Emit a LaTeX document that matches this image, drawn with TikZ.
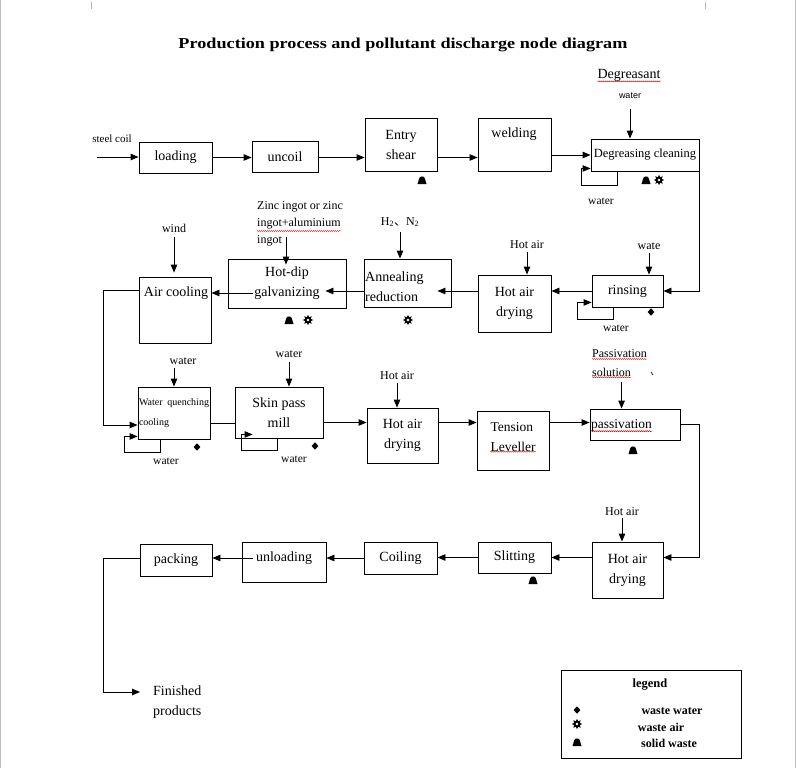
\documentclass[tikz,border=0pt]{standalone}
\usepackage{graphicx}
\usepackage{fontspec}
\setmainfont{Liberation Serif}
\newfontfamily\arial{Liberation Sans}
\newfontfamily\cjk{Noto Sans CJK SC}
\usetikzlibrary{arrows.meta,decorations.pathmorphing}

\tikzset{
    proc/.style={draw, line width=0.9pt, inner sep=0pt, align=center, font=\fontsize{14}{20}\selectfont},
    lbl/.style={inner sep=0pt, font=\fontsize{12}{17}\selectfont},
    arr/.style={line width=0.9pt, -{Triangle[length=8pt,width=6.5pt]}},
    flow/.style={line width=0.9pt},
    squig/.style={red!80!black, line width=0.4pt, decorate, decoration={snake, amplitude=0.5pt, segment length=2pt}},
    wwater/.pic={\fill (0,-3.7) -- (3.4,0) -- (0,3.7) -- (-3.4,0) -- cycle;},
    wair/.pic={\fill[even odd rule] (90:5.2) \foreach \a in {0,45,...,315} {-- ({\a+90}:5.2) -- ({\a+112.5}:3)} -- cycle (0,0) circle (1.7);},
    swaste/.pic={\fill (-4.5,4) -- (4.5,4) -- (2.8,-1.6) .. controls (2.3,-4.2) and (-2.3,-4.2) .. (-2.8,-1.6) -- cycle;}
}

\begin{document}
\begin{tikzpicture}[x=1pt,y=-1pt]
    \useasboundingbox (0,0) rectangle (796,768);
    \draw[gray!50] (0.5,0) -- (0.5,768);
    \draw[gray!50] (795,0) -- (795,768);
    \draw[gray!60] (91,2) -- (91,9);
    \draw[gray!60] (705,2) -- (705,9);

    \node[inner sep=0pt] (title) at (403,45) {\resizebox{449pt}{10.5pt}{\bfseries Production process and pollutant discharge node diagram}};

    \node[proc, minimum width=73pt, minimum height=31pt] (load) at (175.5,157.5) {loading};
    \node[proc, minimum width=66pt, minimum height=31pt] (uncoil) at (285,156.5) {uncoil};
    \node[proc, minimum width=72pt, minimum height=53pt] (entry) at (401,144.5) {Entry\\shear};
    \node[proc, minimum width=73pt, minimum height=53pt] (weld) at (514.5,144.5) {};
    \node[lbl, font=\fontsize{14}{20}\selectfont] (weldtxt) at (514,134) {welding};
    \node[proc, minimum width=108pt, minimum height=32pt, font=\fontsize{12.5}{15}\selectfont] (degrease) at (645,155) {Degreasing cleaning};

    \node[lbl, font=\fontsize{11}{13}\selectfont] (steelcoil) at (112,139) {steel coil};
    \coordinate (coilstart) at (97,157);
    \draw[arr] (coilstart) -- (coilstart -| load.west);
    \draw[arr] (load.east) -- (load.east -| uncoil.west);
    \draw[arr] (load.east -| uncoil.east) -- (load.east -| entry.west);
    \draw[arr] (load.east -| entry.east) -- (load.east -| weld.west);
    \draw[arr] (weld.east |- degrease.west) -- (degrease.west);

    \node[lbl, font=\fontsize{14}{16}\selectfont] (degagent) at (629,75) {Degreasant};
    \node[lbl, font=\arial\fontsize{9}{11}\selectfont] (degwater) at (630,96) {water};
    \draw[arr, shorten <=10pt] (degwater.south) -- (degwater.south |- degrease.north);
    \draw[arr] ([xshift=27pt]degrease.south west) -- ++(0,14) -- ++(-36,0) -- ++(0,-17) -- ++(9,0);
    \node[lbl, font=\fontsize{11.5}{13}\selectfont] (degrecycle) at (601,201) {water};
    \pic at (422,180) {swaste};
    \pic at (646,180) {swaste};
    \pic at (659,180) {wair};

    \node[proc, minimum width=71pt, minimum height=32pt] (rinse) at (627.5,291) {rinsing};
    \draw[arr] (degrease.south east) |- (rinse.east);
    \node[lbl] (rinsewater) at (649,246) {wate};
    \draw[arr, shorten <=3pt] (rinsewater.south) -- (rinsewater.south |- rinse.north);
    \draw[arr] ([xshift=22pt]rinse.south west) -- ++(0,12) -- ++(-36,0) -- ++(0,-17) -- ++(14,0);
    \node[lbl, font=\fontsize{11.5}{13}\selectfont] (rinserecycle) at (616,328) {water};
    \pic at (651,312) {wwater};

    \node[proc, minimum width=73pt, minimum height=57pt] (dry1) at (514.5,303.5) {Hot air\\drying};
    \draw[arr] (rinse.west) -- (rinse.west -| dry1.east);
    \node[lbl] (dry1air) at (527,245) {Hot air};
    \draw[arr, shorten <=3pt] (dry1air.south) -- (dry1air.south |- dry1.north);

    \node[proc, minimum width=87pt, minimum height=48pt] (anneal) at (407.5,283) {};
    \node[lbl, anchor=west, align=left, font=\fontsize{14}{20}\selectfont] (annealtxt) at (365,287) {Annealing\\reduction};
    \draw[arr, shorten >=-14pt] (rinse.west -| dry1.west) -- (rinse.west -| anneal.east);
    \node[lbl] (gas) at (400,222) {H\textsubscript{2}{\cjk 、}N\textsubscript{2}};
    \draw[arr, shorten <=5pt] (gas.south) -- (gas.south |- anneal.north);
    \pic at (408,320) {wair};

    \node[proc, minimum width=118pt, minimum height=49pt] (galv) at (287,283.5) {Hot-dip\\galvanizing};
    \draw[arr, shorten >=-21pt] (rinse.west -| anneal.west) -- (rinse.west -| galv.east);
    \node[lbl, anchor=west, align=left] (zinc) at (257,224) {Zinc ingot or zinc\\ingot+aluminium\\ingot};
    \coordinate (zincend) at (286,237);
    \draw[arr, shorten >=-6pt] (zincend) -- (zincend |- galv.north);
    \pic at (289,320) {swaste};
    \pic at (308,320) {wair};

    \node[proc, minimum width=72pt, minimum height=66pt] (aircool) at (175,310) {};
    \node[lbl, font=\fontsize{14}{20}\selectfont] (aircooltxt) at (176,293) {Air cooling};
    \draw[arr, shorten <=-25pt] (galv.west |- aircooltxt) -- (aircool.east |- aircooltxt);
    \node[lbl] (wind) at (174,228) {wind};
    \draw[arr, shorten <=5pt, shorten >=4pt] (wind.south) -- (wind.south |- aircool.north);

    \node[proc, minimum width=72pt, minimum height=52pt] (quench) at (174,413) {};
    \node[lbl, text width=70pt, align=left, font=\fontsize{10}{20}\selectfont] (quenchtxt) at (174,413) {Water\hfill quenching\\cooling};
    \draw[arr] ([yshift=20pt]aircool.west) -- ++(-35,0) |- ([yshift=-12pt]quench.west);
    \node[lbl] (quenchwater) at (183,361) {water};
    \draw[arr, shorten <=3pt] (quench.north |- quenchwater.south) -- (quench.north);
    \draw[arr] ([xshift=23pt]quench.south west) -- ++(0,13) -- ++(-36,0) -- ++(0,-16) -- ++(13,0);
    \node[lbl, font=\fontsize{11.5}{13}\selectfont] (quenchrecycle) at (166,461) {water};
    \pic at (197,447) {wwater};

    \node[proc, minimum width=88pt, minimum height=51pt] (skin) at (279,412.5) {Skin pass\\mill};
    \draw[flow] ([yshift=-10pt]quench.east) -- ([yshift=-10pt]quench.east -| skin.west);
    \node[lbl] (skinwater) at (289,354) {water};
    \draw[arr, shorten <=4pt] (skinwater.south) -- (skinwater.south |- skin.north);
    \draw[arr] ([xshift=43pt]skin.south west) -- ++(0,12) -- ++(-36,0) -- ++(0,-16) -- ++(11,0);
    \node[lbl, font=\fontsize{11.5}{13}\selectfont] (skinrecycle) at (294,459) {water};
    \pic at (315,446) {wwater};

    \node[proc, minimum width=71pt, minimum height=55pt] (dry2) at (402.5,435.5) {Hot air\\drying};
    \draw[arr] ([yshift=-10pt]skin.east) -- ([yshift=-10pt]skin.east -| dry2.west);
    \node[lbl] (dry2air) at (397,376) {Hot air};
    \draw[arr, shorten <=3pt] (dry2air.south) -- (dry2air.south |- dry2.north);

    \node[proc, minimum width=72pt, minimum height=59pt] (level) at (513,440.5) {};
    \node[lbl, align=left, font=\fontsize{13.5}{20}\selectfont] (leveltxt) at (513,437) {Tension\\Leveller};
    \draw[arr] ([yshift=-10pt]skin.east -| dry2.east) -- ([yshift=-10pt]skin.east -| level.west);

    \node[proc, minimum width=90pt, minimum height=31pt] (passiv) at (635,424.5) {};
    \node[lbl, anchor=west, font=\fontsize{13.5}{16}\selectfont] (passivtxt) at (591,425) {passivation};
    \draw[arr] ([yshift=-10pt]skin.east -| level.east) -- ([yshift=-10pt]skin.east -| passiv.west);
    \node[lbl, anchor=west, align=left, font=\fontsize{12}{19}\selectfont] (passsol) at (592,363.5) {Passivation\\solution};
    \draw[arr, shorten <=5pt] (passivtxt.north |- passsol.south) -- (passivtxt.north |- passiv.north);
    \draw[line width=0.6pt] (651,372) -- (653,375);
    \pic at (633,450) {swaste};

    \node[proc, minimum width=71pt, minimum height=56pt] (dry3) at (627.5,570) {Hot air\\drying};
    \draw[arr] (passiv.east) -- (passiv.east -| degrease.east) |- ([yshift=12.5pt]dry3.east);
    \node[lbl] (dry3air) at (622,512) {Hot air};
    \draw[arr, shorten <=2pt] (dry3air.south) -- (dry3air.south |- dry3.north);

    \node[proc, minimum width=73pt, minimum height=31pt] (slit) at (514.5,557.5) {Slitting};
    \draw[arr] (slit.east -| dry3.west) -- (slit.east);
    \pic at (533,580) {swaste};
    \node[proc, minimum width=73pt, minimum height=32pt] (coil) at (400.5,558) {Coiling};
    \draw[arr] (slit.west) -- (slit.west -| coil.east);
    \node[proc, minimum width=84pt, minimum height=40pt] (unload) at (284,562) {};
    \node[lbl, font=\fontsize{14}{16}\selectfont] (unloadtxt) at (284,558) {unloading};
    \draw[arr] (coil.west) -- (coil.west -| unload.east);
    \node[proc, minimum width=72pt, minimum height=32pt] (pack) at (176,560) {packing};
    \draw[arr, shorten <=-11pt] (coil.west -| unload.west) -- (coil.west -| pack.east);

    \node[lbl, anchor=west, align=left, font=\fontsize{14}{20}\selectfont] (finished) at (153,702) {Finished\\products};
    \coordinate (finishin) at (140,692);
    \draw[arr] (coil.west -| pack.west) -- ++(-36,0) |- (finishin);

    \draw[squig] (degagent.south west) -- (degagent.south east);
    \draw[squig] ([yshift=-7pt]zinc.west) -- ++(84,0);
    \draw[squig] (leveltxt.south west) -- (leveltxt.south east);
    \draw[squig] ([yshift=4.5pt]passsol.west) -- ++(55,0);
    \draw[squig] (passsol.south west) -- ++(39,0);
    \draw[squig] (passivtxt.south west) -- (passivtxt.south east);

    \node[draw, line width=0.9pt, minimum width=180pt, minimum height=88pt] (legend) at (651,714) {};
    \node[lbl, font=\bfseries\fontsize{12.5}{14}\selectfont] (legendtitle) at (650,685) {legend};
    \pic at (577,710) {wwater};
    \pic at (577,724) {wair};
    \pic at (577,742) {swaste};
    \node[lbl, font=\bfseries\fontsize{12}{14}\selectfont] (legwater) at (672,711) {waste water};
    \node[lbl, font=\bfseries\fontsize{12}{14}\selectfont] (legair) at (661,727) {waste air};
    \node[lbl, font=\bfseries\fontsize{12}{14}\selectfont] (legsolid) at (669,743) {solid waste};
\end{tikzpicture}
\end{document}
